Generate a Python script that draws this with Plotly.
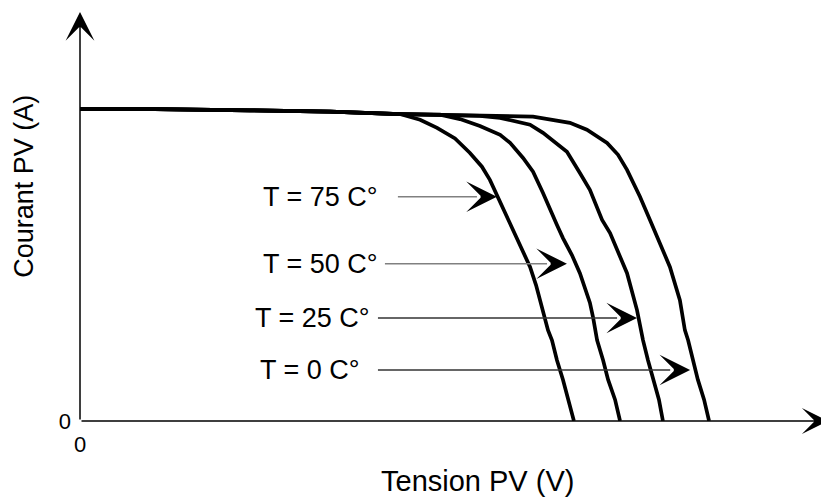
import plotly.graph_objects as go

# ---- data (Tension PV in V, Courant PV in A) ----
temps = ["T = 0 C°", "T = 25 C°", "T = 50 C°", "T = 75 C°"]

v_t75 = [0, 3.01, 6.82, 10.03, 12.83, 13.64, 14.32, 15.04, 15.64, 16.12, 16.44, 16.76, 17.17,
         17.37, 17.73, 18.05, 18.29, 18.45, 18.61, 18.77, 18.93, 19.13, 19.37, 19.57, 19.81]
i_t75 = [4.98, 4.98, 4.96, 4.94, 4.90, 4.81, 4.68, 4.51, 4.28, 4.06, 3.85, 3.58, 3.21,
         3.04, 2.73, 2.46, 2.17, 1.93, 1.69, 1.45, 1.29, 0.97, 0.66, 0.34, 0]

v_t50 = [0, 3.01, 6.82, 10.03, 12.83, 14.44, 15.24, 16.04, 16.85, 17.25, 17.77, 18.17, 18.57,
         18.85, 19.13, 19.37, 19.73, 20.05, 20.29, 20.45, 20.58, 20.74, 20.98, 21.18, 21.46, 21.66]
i_t50 = [4.98, 4.98, 4.96, 4.94, 4.90, 4.89, 4.82, 4.71, 4.57, 4.44, 4.20, 3.98, 3.64,
         3.37, 3.13, 2.92, 2.65, 2.36, 2.09, 1.89, 1.65, 1.29, 0.97, 0.66, 0.34, 0]

v_t25 = [0, 3.01, 6.82, 10.03, 12.83, 14.44, 16.04, 16.85, 18.05, 18.57, 19.53, 20.05, 20.45,
         20.94, 21.26, 21.94, 22.34, 22.50, 22.58, 22.78, 22.98, 23.22, 23.38]
i_t25 = [4.98, 4.98, 4.96, 4.94, 4.90, 4.89, 4.87, 4.84, 4.73, 4.60, 4.30, 3.96, 3.69,
         3.21, 3.00, 2.36, 1.77, 1.45, 1.29, 0.97, 0.66, 0.34, 0]

v_t0 = [0, 3.01, 6.82, 10.03, 12.83, 14.44, 16.04, 18.17, 19.65, 20.33, 21.14, 21.58, 21.94,
        22.46, 22.86, 22.98, 23.66, 24.06, 24.26, 24.39, 24.59, 24.78, 25.03, 25.23]
i_t0 = [4.98, 4.98, 4.96, 4.94, 4.90, 4.89, 4.87, 4.86, 4.76, 4.65, 4.44, 4.25, 4.01,
        3.58, 3.21, 3.10, 2.46, 1.93, 1.45, 1.29, 0.97, 0.66, 0.34, 0]

# label arrows: tip on the curve, start of tail, text right edge
label_tip_v = [24.47, 22.34, 19.53, 16.72]
label_tip_i = [0.815, 1.645, 2.51, 3.58]
label_tail_v = [11.95, 11.95, 12.23, 12.75]
label_text_v = [11.31, 11.71, 12.03, 12.03]
label_line_col = ["#333333", "#333333", "#808080", "#808080"]

x_max = 30.0
y_max = 6.53

FONT = "Arial, Liberation Sans, sans-serif"

fig = go.Figure()
for v, i in [(v_t75, i_t75), (v_t50, i_t50), (v_t25, i_t25), (v_t0, i_t0)]:
    fig.add_trace(go.Scatter(x=v, y=i, mode="lines",
                             line=dict(color="black", width=3.7),
                             showlegend=False, hoverinfo="skip", cliponaxis=False))

annotations = []
shapes = []
# axes with arrows
annotations.append(dict(x=x_max, y=0, ax=0, ay=0, xref="x", yref="y", axref="x", ayref="y",
                        showarrow=True, arrowhead=3, arrowwidth=1.5, arrowsize=2.9,
                        arrowcolor="black", text=""))
annotations.append(dict(x=0, y=y_max, ax=0, ay=0, xref="x", yref="y", axref="x", ayref="y",
                        showarrow=True, arrowhead=3, arrowwidth=1.5, arrowsize=3.2,
                        arrowcolor="black", text=""))

for txt, tv, ti, tail, tx, col in zip(temps, label_tip_v, label_tip_i, label_tail_v,
                                      label_text_v, label_line_col):
    shapes.append(dict(type="line", xref="x", yref="y", x0=tail, x1=tv - 0.8, y0=ti, y1=ti,
                       line=dict(color=col, width=1.5)))
    annotations.append(dict(x=tv, y=ti, ax=-14, ay=0, xref="x", yref="y",
                            showarrow=True, arrowhead=3, arrowwidth=1.5, arrowsize=3.4,
                            arrowcolor="black", text=""))
    annotations.append(dict(x=tx, y=ti, xref="x", yref="y", text=txt, showarrow=False,
                            xanchor="right", yanchor="middle",
                            font=dict(family=FONT, size=27, color="black")))

annotations.append(dict(x=0.531, y=-0.147, xref="paper", yref="paper", text="Tension PV (V)",
                        showarrow=False, xanchor="center", yanchor="middle",
                        font=dict(family=FONT, size=29, color="black")))
annotations.append(dict(x=-0.075, y=0.575, xref="paper", yref="paper", text="Courant PV (A)",
                        showarrow=False, xanchor="center", yanchor="middle", textangle=-90,
                        font=dict(family=FONT, size=27, color="black")))

# the page body adds an 8 px offset, so the margins are shifted to compensate
fig.update_layout(
    width=829, height=497,
    margin=dict(l=72, r=9, t=4, b=84, autoexpand=False),
    paper_bgcolor="white", plot_bgcolor="white",
    xaxis=dict(range=[0, x_max], showgrid=False, zeroline=False, showline=False,
               automargin=False,
               tickvals=[0], ticktext=["0"], ticks="", ticklabelstandoff=8,
               tickfont=dict(family=FONT, size=22, color="black")),
    yaxis=dict(range=[0, y_max], showgrid=False, zeroline=False, showline=False,
               automargin=False,
               tickvals=[0], ticktext=["0"], ticks="", ticklabelstandoff=8,
               tickfont=dict(family=FONT, size=22, color="black")),
    annotations=annotations, shapes=shapes,
)

fig.write_html("out.html")
